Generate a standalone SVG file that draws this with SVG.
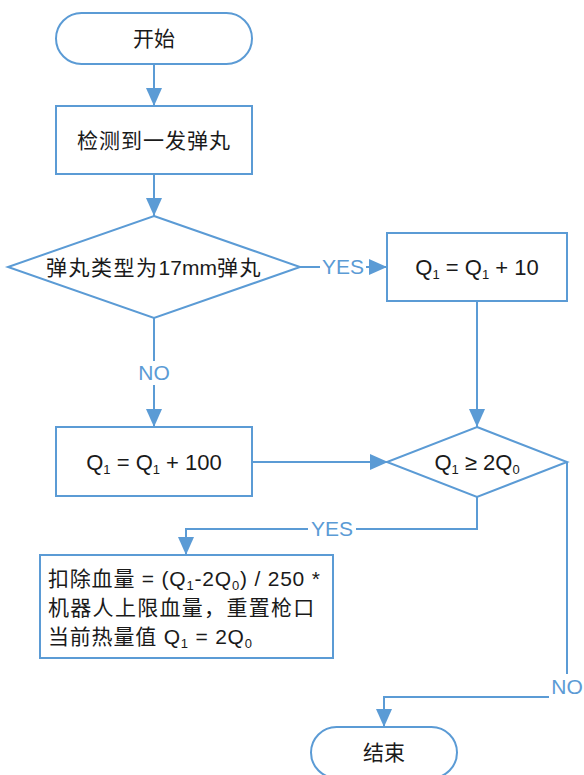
<svg xmlns="http://www.w3.org/2000/svg" width="584" height="775" viewBox="0 0 584 775">
<style>
.shape{fill:#fff;stroke:#5B9BD5;stroke-width:2}
.conn{fill:none;stroke:#5B9BD5;stroke-width:2}
.t{font-family:"Liberation Sans","Noto Sans CJK SC",sans-serif;font-size:21px;fill:#1a1a1a}
.q{font-size:22px}
.c{text-anchor:middle}
.lbl{font-family:"Liberation Sans","Noto Sans CJK SC",sans-serif;font-size:21px;fill:#5B9BD5;text-anchor:middle}
.bg{fill:#fff;stroke:none}
</style>
<defs>
<marker id="arr" markerUnits="userSpaceOnUse" markerWidth="18" markerHeight="16" refX="18" refY="8" orient="auto">
<path d="M0,0 L18,8 L0,16 z" fill="#5B9BD5"/>
</marker>
</defs>
<rect width="584" height="775" fill="#fff"/>
<g id="connectors">
<line class="conn" x1="154" y1="64" x2="154" y2="106" marker-end="url(#arr)"/>
<line class="conn" x1="154" y1="174" x2="154" y2="216" marker-end="url(#arr)"/>
<line class="conn" x1="300" y1="267" x2="387" y2="267" marker-end="url(#arr)"/>
<rect class="bg" x="320" y="255" width="46" height="24"/>
<text class="lbl" x="343" y="274">YES</text>
<line class="conn" x1="154" y1="318" x2="154" y2="427" marker-end="url(#arr)"/>
<rect class="bg" x="135" y="361" width="38" height="24"/>
<text class="lbl" x="154" y="380">NO</text>
<line class="conn" x1="477" y1="301" x2="477" y2="427" marker-end="url(#arr)"/>
<line class="conn" x1="252" y1="462" x2="388" y2="462" marker-end="url(#arr)"/>
<polyline class="conn" points="477,497 477,529 186,529 186,555" marker-end="url(#arr)"/>
<rect class="bg" x="308" y="518" width="48" height="22"/>
<text class="lbl" x="332" y="536">YES</text>
<polyline class="conn" points="567,462 567,697 384,697 384,727" marker-end="url(#arr)"/>
<rect class="bg" x="549" y="674" width="36" height="26"/>
<text class="lbl" x="567" y="694">NO</text>
</g>
<g id="start">
<rect class="shape" x="56" y="13" width="196" height="51" rx="25.5" ry="25.5"/>
<text class="t c" x="154" y="46">开始</text>
</g>
<g id="detect">
<rect class="shape" x="56" y="106" width="196" height="68"/>
<text class="t c" x="154" y="148" letter-spacing="1">检测到一发弹丸</text>
</g>
<g id="decision1">
<polygon class="shape" points="154,216 300,267 154,318 8,267"/>
<text class="t c" x="154" y="275" letter-spacing="1.5">弹丸类型为<tspan letter-spacing="0">17mm</tspan>弹丸</text>
</g>
<g id="add10">
<rect class="shape" x="387" y="233" width="180" height="68"/>
<text class="t q c" x="477" y="275">Q<tspan font-size="13" dy="4">1</tspan><tspan dy="-4"> = Q</tspan><tspan font-size="13" dy="4">1</tspan><tspan dy="-4"> + 10</tspan></text>
</g>
<g id="add100">
<rect class="shape" x="56" y="427" width="196" height="69"/>
<text class="t q c" x="154" y="470">Q<tspan font-size="13" dy="4">1</tspan><tspan dy="-4"> = Q</tspan><tspan font-size="13" dy="4">1</tspan><tspan dy="-4"> + 100</tspan></text>
</g>
<g id="decision2">
<polygon class="shape" points="477,427 567,462 477,497 387,462"/>
<text class="t q c" x="477" y="470">Q<tspan font-size="13" dy="4">1</tspan><tspan dy="-4"> ≥ 2Q</tspan><tspan font-size="13" dy="4">0</tspan></text>
</g>
<g id="penalty">
<rect class="shape" x="40" y="555" width="293" height="103"/>
<text class="t" x="48" y="586" letter-spacing="0.8">扣除血量 = (Q<tspan font-size="13" dy="4">1</tspan><tspan dy="-4">-2Q</tspan><tspan font-size="13" dy="4">0</tspan><tspan dy="-4">) / 250 *</tspan></text>
<text class="t" x="48" y="615" letter-spacing="1.3">机器人上限血量，重置枪口</text>
<text class="t" x="48" y="644" letter-spacing="0.8">当前热量值 Q<tspan font-size="13" dy="4">1</tspan><tspan dy="-4"> = 2Q</tspan><tspan font-size="13" dy="4">0</tspan></text>
</g>
<g id="end">
<rect class="shape" x="311" y="727" width="146" height="51" rx="25.5" ry="25.5"/>
<text class="t c" x="384" y="760">结束</text>
</g>
</svg>
